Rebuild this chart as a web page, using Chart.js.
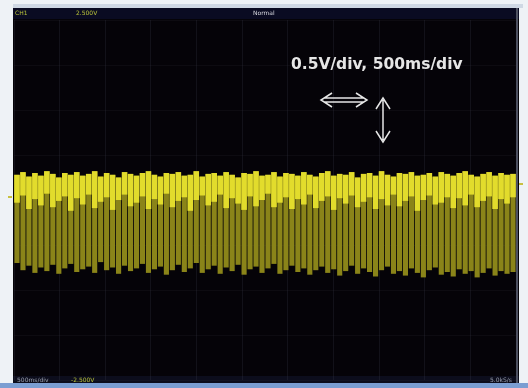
<!DOCTYPE html>
<html>
<head>
<meta charset="utf-8">
<script src="https://cdn.jsdelivr.net/npm/chart.js@4.4.1/dist/chart.umd.min.js"></script>
<style>
  html, body { margin: 0; padding: 0; background: #e9eef3; }
  #wrap { width: 528px; height: 388px; }
</style>
</head>
<body>
<div id="wrap"><canvas id="scope" width="528" height="388"></canvas></div>
<script>
    // 上端の電圧 (V) 84列
    let topV = [
        2.28, 2.31, 2.26, 2.30, 2.27, 2.32, 2.29, 2.25, 2.30, 2.28, 2.31, 2.27,
        2.29, 2.32, 2.26, 2.30, 2.28, 2.25, 2.31, 2.29, 2.27, 2.30, 2.32, 2.28,
        2.26, 2.30, 2.29, 2.31, 2.27, 2.28, 2.32, 2.26, 2.29, 2.30, 2.27, 2.31,
        2.28, 2.25, 2.30, 2.29, 2.32, 2.27, 2.28, 2.31, 2.26, 2.30, 2.29, 2.27,
        2.31, 2.28, 2.26, 2.30, 2.32, 2.27, 2.29, 2.28, 2.31, 2.25, 2.29, 2.30,
        2.27, 2.32, 2.28, 2.26, 2.30, 2.29, 2.31, 2.27, 2.28, 2.30, 2.26, 2.31,
        2.29, 2.27, 2.30, 2.32, 2.28, 2.26, 2.29, 2.31, 2.27, 2.30, 2.28, 2.29
    ];
    // 明るい帯の下端 (V)
    let brightLowV = [
        1.97, 2.05, 1.90, 2.01, 1.94, 2.07, 1.92, 1.99, 2.04, 1.88, 2.02, 1.95,
        2.06, 1.91, 1.98, 2.03, 1.89, 2.00, 2.06, 1.93, 1.97, 2.04, 1.90, 2.01,
        1.95, 2.07, 1.92, 1.99, 2.03, 1.88, 2.00, 2.05, 1.94, 1.98, 2.06, 1.91,
        2.02, 1.96, 1.89, 2.04, 1.93, 2.00, 2.07, 1.92, 1.97, 2.03, 1.90, 2.01,
        1.95, 2.06, 1.91, 1.99, 2.04, 1.89, 2.02, 1.96, 2.05, 1.92, 1.98, 2.03,
        1.90, 2.01, 1.94, 2.06, 1.93, 1.99, 2.04, 1.88, 2.00, 2.05, 1.95, 1.97,
        2.03, 1.91, 2.02, 1.94, 2.06, 1.92, 1.99, 2.04, 1.90, 2.01, 1.96, 2.03
    ];
    // 暗い帯の下端 (V)
    let dimLowV = [
        1.30, 1.22, 1.27, 1.19, 1.25, 1.21, 1.28, 1.18, 1.24, 1.29, 1.20, 1.23,
        1.26, 1.19, 1.31, 1.22, 1.25, 1.18, 1.27, 1.21, 1.24, 1.29, 1.19, 1.23,
        1.26, 1.17, 1.22, 1.28, 1.20, 1.24, 1.30, 1.19, 1.23, 1.27, 1.18, 1.25,
        1.21, 1.28, 1.17, 1.23, 1.26, 1.19, 1.24, 1.29, 1.18, 1.22, 1.27, 1.20,
        1.24, 1.17, 1.22, 1.26, 1.19, 1.23, 1.16, 1.21, 1.27, 1.18, 1.24, 1.20,
        1.15, 1.22, 1.26, 1.18, 1.21, 1.16, 1.24, 1.19, 1.14, 1.22, 1.25, 1.17,
        1.20, 1.15, 1.23, 1.18, 1.21, 1.14, 1.19, 1.24, 1.16, 1.21, 1.18, 1.20
    ];
    // 目盛り (0.5V/div, 500ms/div)
    let yTicks = [0, 0.5, 1.0, 1.5, 2.0, 2.5, 3.0, 3.5, 4.0];
    let xDivs = 10;

    let cols = topV.map((v, i) => i + 1);
    let dimBand = cols.map((c, i) => [dimLowV[i], topV[i]]);
    let brightBand = cols.map((c, i) => [brightLowV[i], topV[i]]);

    // 画面の枠・文字
    const scopeFrame = {
        id: 'scopeFrame',
        beforeDraw(chart) {
            const ctx = chart.ctx;
            ctx.save();
            ctx.fillStyle = '#eef2f6';
            ctx.fillRect(0, 0, 528, 388);
            ctx.fillStyle = '#cfd8e4';
            ctx.fillRect(13, 4, 510, 4);
            // 黒い画面
            ctx.fillStyle = '#050308';
            ctx.fillRect(13, 8, 506, 375);
            // 上のバー
            ctx.fillStyle = '#0a0b22';
            ctx.fillRect(13, 8, 506, 11);
            // 下の帯
            ctx.fillStyle = '#0c0d1c';
            ctx.fillRect(13, 376, 506, 7);
            ctx.fillStyle = '#7b9ed2';
            ctx.fillRect(0, 383, 528, 5);
            // 右端
            ctx.fillStyle = '#4e5262';
            ctx.fillRect(516, 8, 2, 375);
            ctx.restore();
        },
        afterDraw(chart) {
            const ctx = chart.ctx;
            ctx.save();
            ctx.font = '6px "DejaVu Sans"';
            ctx.textBaseline = 'middle';
            ctx.fillStyle = '#b8c23a';
            ctx.fillText('CH1', 15, 13);
            ctx.fillText('2.500V', 76, 13);
            ctx.fillText('-2.500V', 71, 380);
            ctx.fillStyle = '#d8d8e0';
            ctx.fillText('Normal', 253, 13);
            ctx.fillStyle = '#9aa0b0';
            ctx.fillText('500ms/div', 17, 380);
            ctx.fillText('5.0kS/s', 490, 380);
            // 注記
            ctx.font = 'bold 15.5px "DejaVu Sans"';
            ctx.fillStyle = '#e6e6e6';
            ctx.textBaseline = 'alphabetic';
            ctx.fillText('0.5V/div, 500ms/div', 291, 69);
            // 矢印
            ctx.strokeStyle = '#e6e6e6';
            ctx.lineWidth = 1.5;
            ctx.beginPath();
            ctx.moveTo(324, 98); ctx.lineTo(364, 98);
            ctx.moveTo(324, 102); ctx.lineTo(364, 102);
            ctx.moveTo(332, 93); ctx.lineTo(321, 100); ctx.lineTo(332, 107);
            ctx.moveTo(356, 93); ctx.lineTo(367, 100); ctx.lineTo(356, 107);
            ctx.moveTo(383, 100); ctx.lineTo(383, 140);
            ctx.moveTo(376, 109); ctx.lineTo(383, 98); ctx.lineTo(390, 109);
            ctx.moveTo(376, 131); ctx.lineTo(383, 142); ctx.lineTo(390, 131);
            ctx.stroke();
            // 基準マーカー
            ctx.fillStyle = '#c8c040';
            ctx.fillRect(8, 196, 4, 2);
            ctx.fillRect(519, 183, 4, 2);
            ctx.restore();
        }
    };

    let ctx = document.getElementById('scope');
    let scopeChart = new Chart(ctx, {
        type: 'bar',
        data: {
            labels: cols,
            datasets: [
                {
                    label: 'bright',
                    data: brightBand,
                    backgroundColor: '#e2dc2c',
                    borderWidth: 0,
                    barPercentage: 0.94,
                    categoryPercentage: 1.0,
                    grouped: false,
                    order: 0
                },
                {
                    label: 'dim',
                    data: dimBand,
                    backgroundColor: '#8a8419',
                    borderWidth: 0,
                    barPercentage: 0.86,
                    categoryPercentage: 1.0,
                    grouped: false,
                    order: 1
                }
            ]
        },
        options: {
            responsive: false,
            animation: false,
            layout: { padding: { left: 14, right: 12, top: 20, bottom: 8 } },
            plugins: {
                legend: { display: false },
                tooltip: { enabled: false },
                title: { display: false }
            },
            scales: {
                x: {
                    display: true,
                    grid: { display: false, drawTicks: false },
                    border: { display: false },
                    ticks: { display: false }
                },
                xg: {
                    type: 'linear',
                    position: 'top',
                    min: 0,
                    max: xDivs,
                    grid: { color: 'rgba(70,70,85,0.22)', drawTicks: false },
                    border: { display: false },
                    ticks: { display: false, stepSize: 1 }
                },
                y: {
                    min: yTicks[0],
                    max: yTicks[yTicks.length - 1],
                    grid: { color: 'rgba(70,70,85,0.12)', drawTicks: false },
                    border: { display: false },
                    ticks: { display: false, stepSize: 0.5 }
                }
            }
        },
        plugins: [scopeFrame]
    });
</script>
</body>
</html>
